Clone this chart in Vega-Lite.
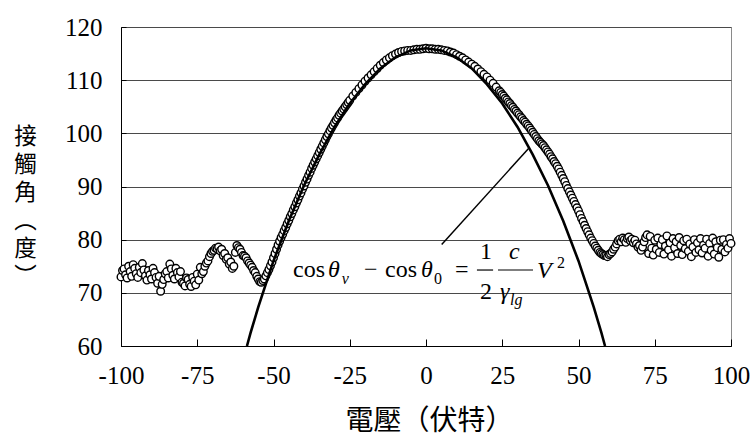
{
  "$schema": "https://vega.github.io/schema/vega-lite/v6.json",
  "width": 610,
  "height": 319,
  "autosize": {"type": "none"},
  "padding": {"left": 121, "top": 27, "right": 19, "bottom": 90},
  "background": "white",
  "config": {"view": {"stroke": "#8a8a8a", "strokeWidth": 1}, "font": "'Liberation Serif', 'Times New Roman', serif"},
  "datasets": {
    "pts": [
      {"v":-100,"a":73.0},{"v":-99.5,"a":74.2},{"v":-99,"a":74.5},{"v":-98.5,"a":73.4},{"v":-98,"a":72.8},{"v":-97.5,"a":75.0},{"v":-97,"a":74.0},{"v":-96.5,"a":73.1},{"v":-96,"a":75.3},{"v":-95.5,"a":74.6},{"v":-95,"a":73.6},{"v":-94.5,"a":72.9},{"v":-94,"a":74.8},{"v":-93.5,"a":73.8},{"v":-93,"a":75.5},{"v":-92.5,"a":74.3},{"v":-92,"a":73.2},{"v":-91.5,"a":72.4},{"v":-91,"a":74.2},{"v":-90.5,"a":73.4},{"v":-90,"a":72.6},{"v":-89.5,"a":74.6},{"v":-89,"a":73.8},{"v":-88.5,"a":72.9},{"v":-88,"a":71.8},{"v":-87.5,"a":73.1},{"v":-87,"a":70.3},{"v":-86.5,"a":71.6},{"v":-86,"a":72.5},{"v":-85.5,"a":73.6},{"v":-85,"a":74.0},{"v":-84.5,"a":72.8},{"v":-84,"a":75.4},{"v":-83.5,"a":74.5},{"v":-83,"a":73.3},{"v":-82.5,"a":72.6},{"v":-82,"a":74.6},{"v":-81.5,"a":73.8},{"v":-81,"a":73.0},{"v":-80.5,"a":74.0},{"v":-80,"a":72.0},{"v":-79.5,"a":71.8},{"v":-79,"a":71.3},{"v":-78.5,"a":72.8},{"v":-78,"a":72.5},{"v":-77.5,"a":71.6},{"v":-77,"a":71.2},{"v":-76.5,"a":72.9},{"v":-76,"a":72.2},{"v":-75.5,"a":71.5},{"v":-75,"a":73.5},{"v":-74.5,"a":72.4},{"v":-74,"a":74.8},{"v":-73.5,"a":73.6},{"v":-73,"a":74.0},{"v":-72.5,"a":75.0},{"v":-72,"a":75.6},{"v":-71.5,"a":76.0},{"v":-71,"a":76.8},{"v":-70.5,"a":77.4},{"v":-70,"a":77.8},{"v":-69.5,"a":78.0},{"v":-69,"a":78.4},{"v":-68.5,"a":78.3},{"v":-68,"a":78.6},{"v":-67.5,"a":77.9},{"v":-67,"a":78.2},{"v":-66.5,"a":77.0},{"v":-66,"a":77.4},{"v":-65.5,"a":76.3},{"v":-65,"a":76.6},{"v":-64.5,"a":75.4},{"v":-64,"a":75.8},{"v":-63.5,"a":74.6},{"v":-63,"a":75.0},{"v":-62.5,"a":77.6},{"v":-62,"a":78.9},{"v":-61.5,"a":78.5},{"v":-61,"a":78.2},{"v":-60.5,"a":77.6},{"v":-60,"a":77.0},{"v":-59.5,"a":76.9},{"v":-59,"a":76.6},{"v":-58.5,"a":76.0},{"v":-58,"a":75.6},{"v":-57.5,"a":75.2},{"v":-57,"a":74.8},{"v":-56.5,"a":74.2},{"v":-56,"a":73.8},
      {"v":-55.5,"a":73.1},{"v":-55,"a":72.6},{"v":-54.5,"a":72.1},{"v":-54,"a":72.0},{"v":-53.5,"a":72.3},{"v":-53,"a":72.6},{"v":-52.5,"a":73.2},{"v":-52,"a":73.8},{"v":-51.5,"a":74.4},{"v":-51,"a":75.1},{"v":-50.5,"a":75.8},{"v":-50,"a":76.6},{"v":-49.5,"a":77.4},{"v":-49,"a":78.2},{"v":-48.5,"a":79.0},{"v":-48,"a":79.7},{"v":-47.5,"a":80.4},{"v":-47,"a":81.0},{"v":-46.5,"a":81.7},{"v":-46,"a":82.3},{"v":-45.5,"a":83.0},{"v":-45,"a":83.6},{"v":-44.5,"a":84.3},{"v":-44,"a":84.9},{"v":-43.5,"a":85.6},{"v":-43,"a":86.2},{"v":-42.5,"a":86.9},{"v":-42,"a":87.5},{"v":-41.5,"a":88.2},{"v":-41,"a":88.8},{"v":-40.5,"a":89.5},{"v":-40,"a":90.1},{"v":-39.5,"a":90.8},{"v":-39,"a":91.4},{"v":-38.5,"a":92.1},{"v":-38,"a":92.7},{"v":-37.5,"a":93.4},{"v":-37,"a":94.0},{"v":-36.5,"a":94.6},{"v":-36,"a":95.2},{"v":-35.5,"a":95.8},{"v":-35,"a":96.4},{"v":-34.5,"a":97.0},{"v":-34,"a":97.6},{"v":-33.5,"a":98.2},{"v":-33,"a":98.8},{"v":-32.5,"a":99.4},{"v":-32,"a":99.9},{"v":-31.5,"a":100.5},{"v":-31,"a":101.0},{"v":-30.5,"a":101.5},{"v":-30,"a":102.0},{"v":-29.5,"a":102.5},{"v":-29,"a":102.9},{"v":-28.5,"a":103.4},{"v":-28,"a":103.8},{"v":-27.5,"a":104.2},{"v":-27,"a":104.6},{"v":-26.5,"a":105.0},{"v":-26,"a":105.4},{"v":-25.5,"a":105.8},{"v":-25,"a":106.2},
      {"v":-24,"a":107.0},{"v":-23,"a":107.7},{"v":-22,"a":108.4},{"v":-21,"a":109.1},{"v":-20,"a":109.8},{"v":-19,"a":110.4},{"v":-18,"a":111.0},{"v":-17,"a":111.6},{"v":-16,"a":112.2},{"v":-15,"a":112.8},{"v":-14,"a":113.3},{"v":-13,"a":113.8},{"v":-12,"a":114.2},{"v":-11,"a":114.6},{"v":-10,"a":114.9},{"v":-9,"a":115.2},{"v":-8,"a":115.4},{"v":-7,"a":115.5},{"v":-6,"a":115.6},{"v":-5,"a":115.6},{"v":-4,"a":115.7},{"v":-3,"a":115.8},{"v":-2,"a":115.8},{"v":-1,"a":115.9},{"v":0,"a":116.0},{"v":1,"a":115.9},{"v":2,"a":115.9},{"v":3,"a":115.8},{"v":4,"a":115.8},{"v":5,"a":115.7},{"v":6,"a":115.6},{"v":7,"a":115.5},{"v":8,"a":115.3},{"v":9,"a":115.1},{"v":10,"a":114.8},{"v":11,"a":114.5},{"v":12,"a":114.2},{"v":13,"a":113.8},{"v":14,"a":113.4},{"v":15,"a":113.0},{"v":16,"a":112.6},{"v":17,"a":112.1},{"v":18,"a":111.6},{"v":19,"a":111.1},{"v":20,"a":110.6},{"v":21,"a":110.0},{"v":22,"a":109.4},{"v":23,"a":108.7},{"v":24,"a":108.0},
      {"v":24.5,"a":107.7},{"v":25,"a":107.3},{"v":25.5,"a":107.0},{"v":26,"a":106.6},{"v":26.5,"a":106.3},{"v":27,"a":105.9},{"v":27.5,"a":105.6},{"v":28,"a":105.2},{"v":28.5,"a":104.9},{"v":29,"a":104.5},{"v":29.5,"a":104.2},{"v":30,"a":103.8},{"v":30.5,"a":103.5},{"v":31,"a":103.1},{"v":31.5,"a":102.8},{"v":32,"a":102.4},{"v":32.5,"a":102.1},{"v":33,"a":101.7},{"v":33.5,"a":101.4},{"v":34,"a":101.0},{"v":34.5,"a":100.6},{"v":35,"a":100.2},{"v":35.5,"a":99.8},{"v":36,"a":99.4},{"v":36.5,"a":99.0},{"v":37,"a":98.6},{"v":37.5,"a":98.3},{"v":38,"a":98.0},{"v":38.5,"a":97.7},{"v":39,"a":97.3},{"v":39.5,"a":96.9},{"v":40,"a":96.5},{"v":40.5,"a":96.1},{"v":41,"a":95.6},{"v":41.5,"a":95.2},{"v":42,"a":94.7},{"v":42.5,"a":94.3},{"v":43,"a":93.8},{"v":43.5,"a":93.3},{"v":44,"a":92.7},{"v":44.5,"a":92.1},{"v":45,"a":91.5},{"v":45.5,"a":90.9},{"v":46,"a":90.2},{"v":46.5,"a":89.6},{"v":47,"a":89.0},{"v":47.5,"a":88.4},{"v":48,"a":87.8},{"v":48.5,"a":87.2},{"v":49,"a":86.6},{"v":49.5,"a":86.0},{"v":50,"a":85.4},{"v":50.5,"a":84.7},{"v":51,"a":84.0},{"v":51.5,"a":83.4},{"v":52,"a":82.7},{"v":52.5,"a":82.1},{"v":53,"a":81.5},{"v":53.5,"a":80.9},{"v":54,"a":80.3},{"v":54.5,"a":79.8},{"v":55,"a":79.3},{"v":55.5,"a":78.8},{"v":56,"a":78.4},{"v":56.5,"a":78.0},{"v":57,"a":77.6},{"v":57.5,"a":77.4},{"v":58,"a":77.2},{"v":58.5,"a":77.0},{"v":59,"a":77.0},{"v":59.5,"a":76.8},{"v":60,"a":77.2},{"v":60.5,"a":77.4},{"v":61,"a":77.7},{"v":61.5,"a":78.2},{"v":62,"a":78.6},
      {"v":62.5,"a":79.2},{"v":63,"a":79.8},{"v":63.5,"a":80.1},{"v":64,"a":79.6},{"v":64.5,"a":80.3},{"v":65,"a":80.0},{"v":65.5,"a":79.5},{"v":66,"a":80.2},{"v":66.5,"a":80.5},{"v":67,"a":79.8},{"v":67.5,"a":80.1},{"v":68,"a":79.4},{"v":68.5,"a":79.9},{"v":69,"a":79.2},{"v":69.5,"a":78.6},{"v":70,"a":78.9},{"v":70.5,"a":78.0},{"v":71,"a":78.6},{"v":71.5,"a":79.6},{"v":72,"a":80.4},{"v":72.5,"a":80.9},{"v":73,"a":77.4},{"v":73.5,"a":80.6},{"v":74,"a":78.4},{"v":74.5,"a":77.1},{"v":75,"a":79.9},{"v":75.5,"a":78.2},{"v":76,"a":80.3},{"v":76.5,"a":77.6},{"v":77,"a":79.1},{"v":77.5,"a":80.0},{"v":78,"a":77.3},{"v":78.5,"a":78.8},{"v":79,"a":80.7},{"v":79.5,"a":78.1},{"v":80,"a":79.4},{"v":80.5,"a":76.9},{"v":81,"a":80.2},{"v":81.5,"a":78.5},{"v":82,"a":79.6},{"v":82.5,"a":77.4},{"v":83,"a":80.4},{"v":83.5,"a":78.9},{"v":84,"a":77.2},{"v":84.5,"a":79.8},{"v":85,"a":78.3},{"v":85.5,"a":80.1},{"v":86,"a":77.8},{"v":86.5,"a":79.2},{"v":87,"a":76.8},{"v":87.5,"a":78.6},{"v":88,"a":80.0},{"v":88.5,"a":77.6},{"v":89,"a":79.4},{"v":89.5,"a":78.1},{"v":90,"a":80.2},{"v":90.5,"a":77.5},{"v":91,"a":79.0},{"v":91.5,"a":78.4},{"v":92,"a":80.1},{"v":92.5,"a":76.9},{"v":93,"a":79.3},{"v":93.5,"a":78.0},{"v":94,"a":80.3},{"v":94.5,"a":77.3},{"v":95,"a":79.6},{"v":95.5,"a":78.5},{"v":96,"a":76.7},{"v":96.5,"a":79.9},{"v":97,"a":78.2},{"v":97.5,"a":80.0},{"v":98,"a":77.7},{"v":98.5,"a":79.1},{"v":99,"a":78.4},{"v":99.5,"a":80.2},{"v":100,"a":79.3}
    ],
    "curve": [
      {"v":-58.7,"a":60.0},{"v":-57.5,"a":62.5},{"v":-55,"a":67.3},{"v":-52.5,"a":71.7},{"v":-50,"a":76.0},{"v":-45,"a":83.5},{"v":-40,"a":90.2},{"v":-35,"a":96.0},{"v":-30,"a":101.2},{"v":-25,"a":105.6},{"v":-20,"a":109.2},{"v":-15,"a":112.2},{"v":-10,"a":114.3},{"v":-5,"a":115.6},{"v":0,"a":116.0},{"v":5,"a":115.6},{"v":10,"a":114.3},{"v":15,"a":112.2},{"v":20,"a":109.2},{"v":25,"a":105.6},{"v":30,"a":101.2},{"v":35,"a":96.0},{"v":40,"a":90.2},{"v":45,"a":83.5},{"v":50,"a":76.0},{"v":52.5,"a":71.7},{"v":55,"a":67.3},{"v":57.5,"a":62.5},{"v":58.7,"a":60.0}
    ],
    "lead": [{"v":5.15,"a":79.1,"v2":33.55,"a2":97.1}],
    "bars": [{"v":16.7,"v2":22.0,"a":74.29},{"v":23.6,"v2":35.1,"a":74.29}],
    "up24": [{"v":-43.61,"a":73.07,"t":"cos"},{"v":-20.33,"a":73.07,"t":"−"},{"v":-13.44,"a":73.07,"t":"cos"},{"v":9.51,"a":73.07,"t":"="},{"v":17.7,"a":76.27,"t":"1"},{"v":17.7,"a":68.75,"t":"2"}],
    "it24": [{"v":-32.13,"a":73.07,"t":"θ"},{"v":-1.64,"a":73.07,"t":"θ"},{"v":27.21,"a":76.27,"t":"c"},{"v":24.26,"a":68.75,"t":"γ"},{"v":36.39,"a":72.88,"t":"V"}],
    "it16": [{"v":-27.6,"a":71.57,"t":"v"},{"v":27.54,"a":67.62,"t":"lg"}],
    "up16": [{"v":2.6,"a":71.57,"t":"0"},{"v":42.95,"a":74.76,"t":"2"}]
  },
  "encoding": {
    "x": {
      "field": "v", "type": "quantitative",
      "scale": {"domain": [-100, 100], "nice": false, "zero": false},
      "axis": {
        "values": [-100, -75, -50, -25, 0, 25, 50, 75, 100],
        "grid": false,
        "domainColor": "black", "domainWidth": 1,
        "tickColor": "black", "tickSize": -7, "tickWidth": 1,
        "labelFont": "'Liberation Serif', 'Times New Roman', serif", "labelFontSize": 25, "labelColor": "black",
        "labelPadding": 36, "labelBaseline": "middle", "labelFlush": false,
        "labelExpr": "'' + datum.value",
        "title": "電壓（伏特）",
        "titleFont": "'Noto Sans CJK TC', sans-serif", "titleFontSize": 28, "titleFontWeight": "normal", "titleColor": "black",
        "titleX": 308, "titleY": 75, "titleBaseline": "middle", "titleAlign": "center"
      }
    },
    "y": {
      "field": "a", "type": "quantitative",
      "scale": {"domain": [60, 120], "nice": false, "zero": false},
      "axis": {
        "values": [60, 70, 80, 90, 100, 110, 120],
        "grid": true, "gridColor": "#4a4a4a", "gridWidth": 1,
        "domainColor": "black", "domainWidth": 1,
        "tickColor": "black", "tickSize": -5,
        "labelFont": "'Liberation Serif', 'Times New Roman', serif", "labelFontSize": 25, "labelColor": "black",
        "labelPadding": 24, "labelBaseline": "middle", "labelFlush": false,
        "title": ["接", "觸", "角", "︵", "度", "︶"],
        "titleFont": "'Noto Sans CJK TC', sans-serif", "titleFontSize": 22.5, "titleFontWeight": "normal", "titleColor": "black",
        "titleAngle": 0, "titleX": -96, "titleY": 98, "titleBaseline": "top", "titleAlign": "center",
        "titleLineHeight": 28
      }
    }
  },
  "layer": [
    {
      "data": {"name": "pts"},
      "mark": {"type": "circle", "fill": "white", "stroke": "black", "strokeWidth": 1.4, "size": 58, "opacity": 1, "fillOpacity": 1}
    },
    {
      "data": {"name": "curve"},
      "mark": {"type": "line", "color": "black", "strokeWidth": 2.6}
    },
    {
      "data": {"name": "lead"},
      "mark": {"type": "rule", "color": "black", "strokeWidth": 1.5},
      "encoding": {"x2": {"field": "v2"}, "y2": {"field": "a2"}}
    },
    {
      "data": {"name": "bars"},
      "mark": {"type": "rule", "color": "black", "strokeWidth": 1.2},
      "encoding": {"x2": {"field": "v2"}}
    },
    {
      "data": {"name": "up24"},
      "mark": {"type": "text", "align": "left", "baseline": "alphabetic", "font": "'Liberation Serif', 'Times New Roman', serif", "fontSize": 24, "color": "black"},
      "encoding": {"text": {"field": "t"}}
    },
    {
      "data": {"name": "it24"},
      "mark": {"type": "text", "align": "left", "baseline": "alphabetic", "font": "'Liberation Serif', 'Times New Roman', serif", "fontSize": 24, "fontStyle": "italic", "color": "black"},
      "encoding": {"text": {"field": "t"}}
    },
    {
      "data": {"name": "it16"},
      "mark": {"type": "text", "align": "left", "baseline": "alphabetic", "font": "'Liberation Serif', 'Times New Roman', serif", "fontSize": 16, "fontStyle": "italic", "color": "black"},
      "encoding": {"text": {"field": "t"}}
    },
    {
      "data": {"name": "up16"},
      "mark": {"type": "text", "align": "left", "baseline": "alphabetic", "font": "'Liberation Serif', 'Times New Roman', serif", "fontSize": 16, "color": "black"},
      "encoding": {"text": {"field": "t"}}
    }
  ]
}
